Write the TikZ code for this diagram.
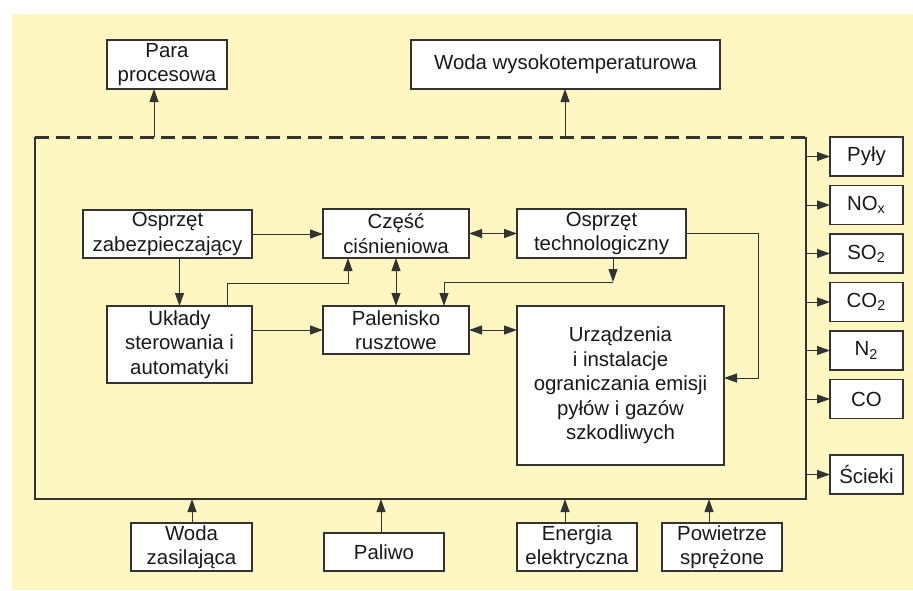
\documentclass[tikz,border=0pt]{standalone}
\usepackage{fontspec}
\setmainfont{Liberation Sans}
\usetikzlibrary{positioning,arrows.meta}
\definecolor{kotelbg}{HTML}{FFF7C2}
\definecolor{kotelline}{HTML}{333333}

\begin{document}
\begin{tikzpicture}[x=0.5pt, y=-0.5pt,
    block/.style={draw=kotelline, fill=white, line width=0.6pt, align=center, inner sep=0pt, outer sep=0pt, text=black!90, font=\fontsize{10.2}{12.2}\selectfont},
    outbox/.style={block, minimum width=36.5pt, minimum height=19.5pt},
    arrow/.style={-{Triangle[length=6.5pt, width=4.5pt]}, line width=0.5pt, draw=kotelline},
    darrow/.style={arrow, {Triangle[length=6.5pt, width=4.5pt]}-{Triangle[length=6.5pt, width=4.5pt]}}
]
\useasboundingbox (0,0) rectangle (913,590);
\fill[white] (0,0) rectangle (913,590);
\fill[kotelbg] (12,14) rectangle (913,590);

% Boiler frame
\node[minimum width=385.5pt, minimum height=181pt, inner sep=0pt, outer sep=0pt] (kotel) at (420.5,318) {};
\draw[line width=0.8pt, kotelline] (kotel.north west) -- (kotel.south west) -- (kotel.south east) -- (kotel.north east);
\draw[line width=1.5pt, kotelline, dash pattern=on 7pt off 3.5pt] (kotel.north west) -- (kotel.north east);

% Products
\node[block, minimum width=60pt, minimum height=24.5pt] (para) at (167,64.5) {Para\\procesowa};
\node[block, minimum width=154.5pt, minimum height=24.5pt] (wodaw) at (565.5,64.5) {Woda wysokotemperaturowa};

\draw[arrow] (kotel.north -| 154,0) -- (para.south -| 154,0);
\draw[arrow] (kotel.north -| 565,0) -- (wodaw.south -| 565,0);

% Inside
\node[block, minimum width=84.5pt, minimum height=24pt] (ozab) at (167.5,234) {Osprzęt\\zabezpieczający};
\node[block, minimum width=73pt, minimum height=24.5pt] (czesc) at (396,233.5) {Część\\ciśnieniowa};
\node[block, minimum width=84.5pt, minimum height=24.5pt] (otech) at (601.5,233.5) {Osprzęt\\technologiczny};
\node[block, minimum width=72.5pt, minimum height=38.5pt] (uklady) at (179.5,344.5) {Układy\\sterowania i\\automatyki};
\node[block, minimum width=73pt, minimum height=24pt] (palen) at (396,330) {Palenisko\\rusztowe};
\node[block, minimum width=103.5pt, minimum height=79.5pt] (urzadz) at (620.5,385.5) {Urządzenia\\i instalacje\\ograniczania emisji\\pyłów i gazów\\szkodliwych};

\draw[arrow] (ozab.east) -- (czesc.west |- ozab.east);
\draw[darrow] (czesc.east) -- (otech.west);
\draw[arrow] (ozab.south -| uklady.north) -- (uklady.north);
\draw[arrow] (uklady.north -| 227,0) |- (348,283) -- (czesc.south -| 348,0);
\draw[darrow] (czesc.south) -- (palen.north);
\coordinate (tj) at (613,282);
\draw[arrow] (otech.south -| tj) -- (tj);
\draw[arrow] (tj) -| (palen.north -| 444,0);
\draw[arrow] (uklady.east |- palen.west) -- (palen.west);
\draw[darrow] (palen.east) -- (urzadz.west |- palen.east);
\draw[arrow] (otech.east) -| (758,378) -- (urzadz.east |- 0,378);

% Emissions
\node[outbox] (pyly) at (866.5,156.5) {Pyły};
\node[outbox, below=4.75pt of pyly] (nox) {NO\textsubscript{x}};
\node[outbox, below=4.75pt of nox] (so2) {SO\textsubscript{2}};
\node[outbox, below=4.75pt of so2] (co2) {CO\textsubscript{2}};
\node[outbox, below=4.75pt of co2] (n2) {N\textsubscript{2}};
\node[outbox, below=4.75pt of n2] (co) {CO};
\node[outbox] (scieki) at (866.5,474.5) {Ścieki};

\draw[arrow] (kotel.east |- pyly.west) -- (pyly.west);
\draw[arrow] (kotel.east |- nox.west) -- (nox.west);
\draw[arrow] (kotel.east |- so2.west) -- (so2.west);
\draw[arrow] (kotel.east |- co2.west) -- (co2.west);
\draw[arrow] (kotel.east |- n2.west) -- (n2.west);
\draw[arrow] (kotel.east |- co.west) -- (co.west);
\draw[arrow] (kotel.east |- scieki.west) -- (scieki.west);

% Supplies
\node[block, minimum width=60.5pt, minimum height=24pt] (wodaz) at (191.5,547) {Woda\\zasilająca};
\node[block, minimum width=60pt, minimum height=19pt] (paliwo) at (384,552) {Paliwo};
\node[block, minimum width=60pt, minimum height=24pt] (energia) at (577,547) {Energia\\elektryczna};
\node[block, minimum width=60pt, minimum height=24pt] (powietrze) at (722,547) {Powietrze\\sprężone};

\draw[arrow] (wodaz.north -| 192,0) -- (kotel.south -| 192,0);
\draw[arrow] (paliwo.north -| 381,0) -- (kotel.south -| 381,0);
\draw[arrow] (energia.north -| 565,0) -- (kotel.south -| 565,0);
\draw[arrow] (powietrze.north -| 709,0) -- (kotel.south -| 709,0);
\end{tikzpicture}
\end{document}
